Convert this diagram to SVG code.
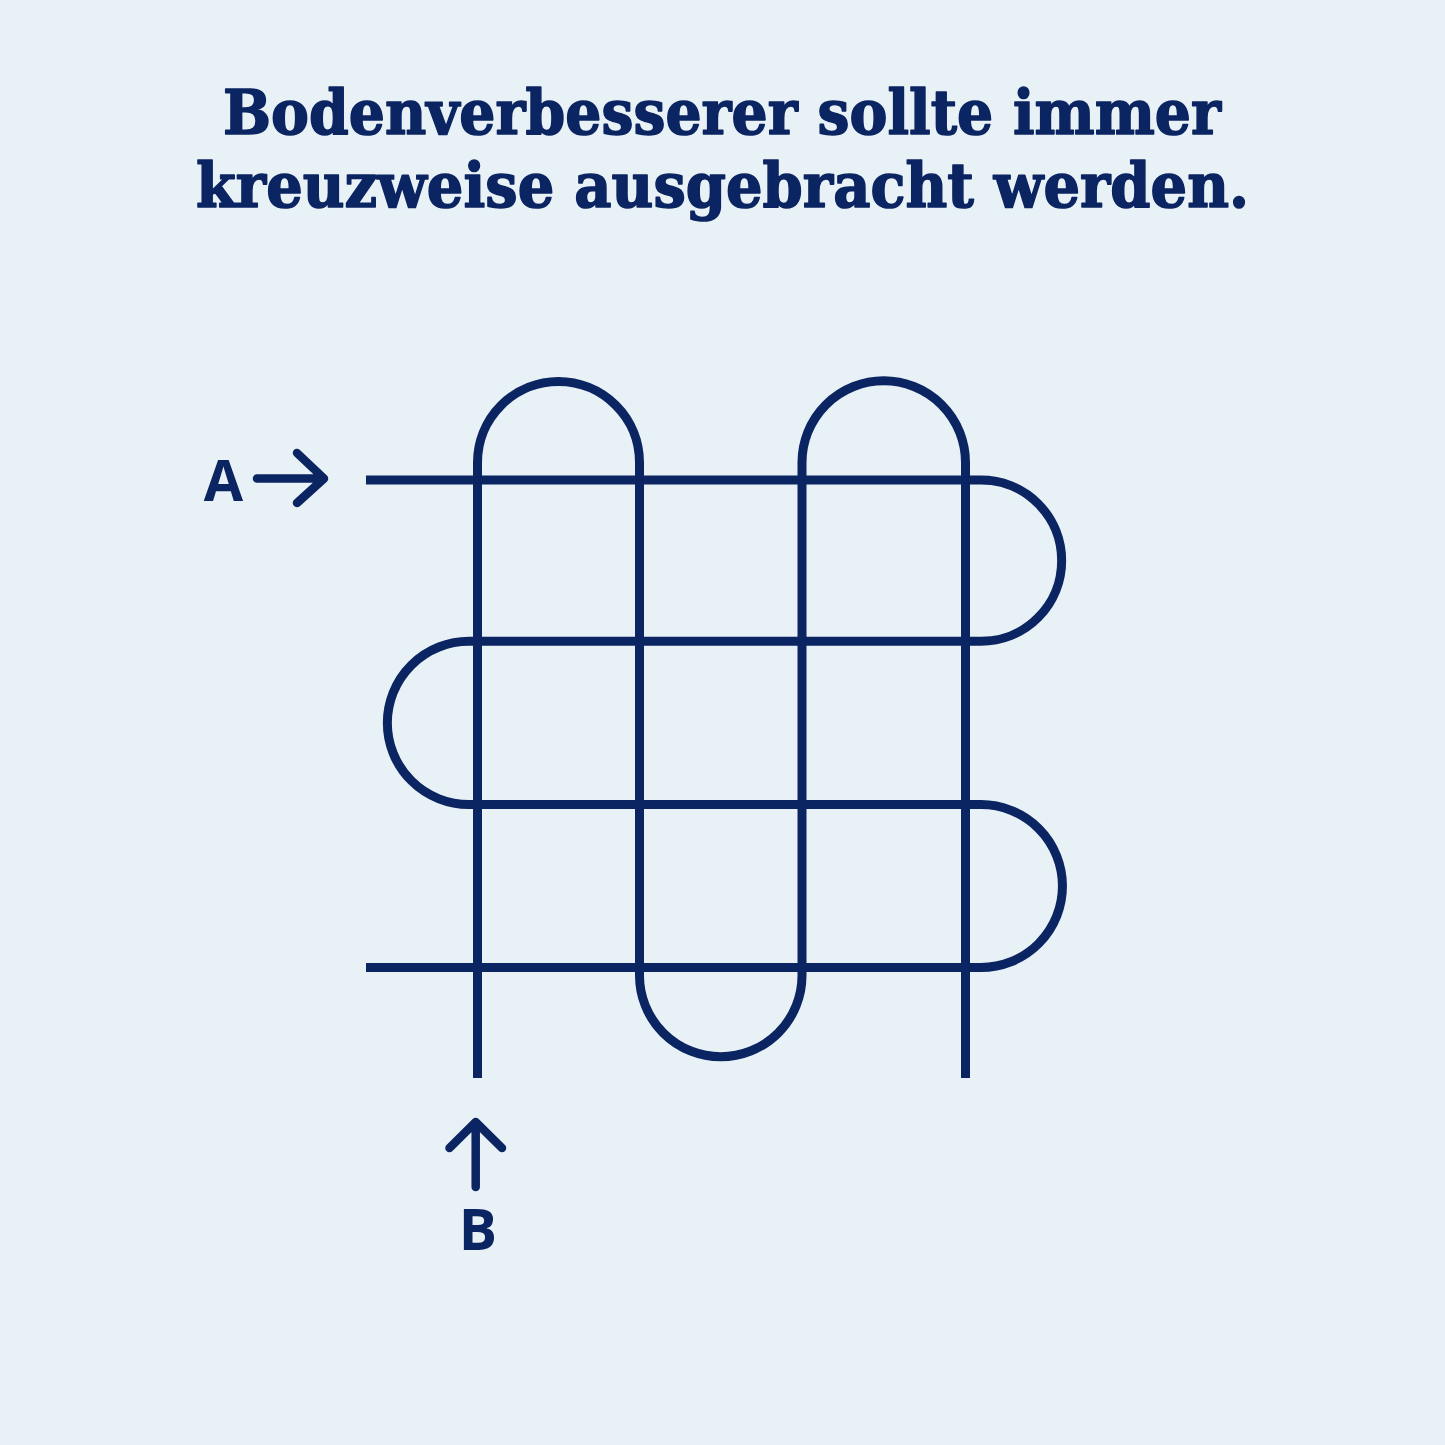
<svg xmlns="http://www.w3.org/2000/svg" width="1445" height="1445" viewBox="0 0 1445 1445">
  <style>
    .title { font-family: "DejaVu Serif", "Liberation Serif", serif; font-weight: 700; font-size: 62px; fill: #0b2462; stroke: #0b2462; stroke-width: 1.6; stroke-linejoin: round; }
    .label { font-family: "Open Sans", Inter, "Liberation Sans", sans-serif; font-weight: 700; font-size: 57px; fill: #0b2462; }
    .line { fill: none; stroke: #0b2462; stroke-width: 9; }
    .arrow { fill: none; stroke: #0b2462; stroke-width: 8.5; stroke-linecap: round; stroke-linejoin: round; }
  </style>
  <rect width="1445" height="1445" fill="#e8f1f5"/>
  <g id="title">
    <text class="title" x="722" y="134" text-anchor="middle" textLength="998" lengthAdjust="spacingAndGlyphs">Bodenverbesserer sollte immer</text>
    <text class="title" x="722.5" y="207" text-anchor="middle" textLength="1053" lengthAdjust="spacingAndGlyphs">kreuzweise ausgebracht werden.</text>
  </g>
  <g id="connectors">
    <path id="path-a" class="line" d="M366,480 H981 A80.65,80.65 0 0 1 981,641.3 H469 A81.65,81.65 0 0 0 469,804.6 H981 A81.45,81.45 0 0 1 981,967.5 H366"/>
    <path id="path-b" class="line" d="M477.5,1078 V462.5 A81,81 0 0 1 639.5,462.5 V975.5 A81.25,81.25 0 0 0 802,975.5 V462.5 A81.75,81.75 0 0 1 965.5,462.5 V1078"/>
    <g id="arrow-a">
      <path class="arrow" d="M257,478.5 H324 M297,453 L324,478.5 L297,503"/>
    </g>
    <g id="arrow-b">
      <path class="arrow" d="M475.7,1187 V1122 M449.5,1148 L475.7,1122 L502,1148"/>
    </g>
  </g>
  <g id="label-a">
    <text class="label" x="223.5" y="501" text-anchor="middle">A</text>
  </g>
  <g id="label-b">
    <text class="label" x="478" y="1250" text-anchor="middle">B</text>
  </g>
</svg>
